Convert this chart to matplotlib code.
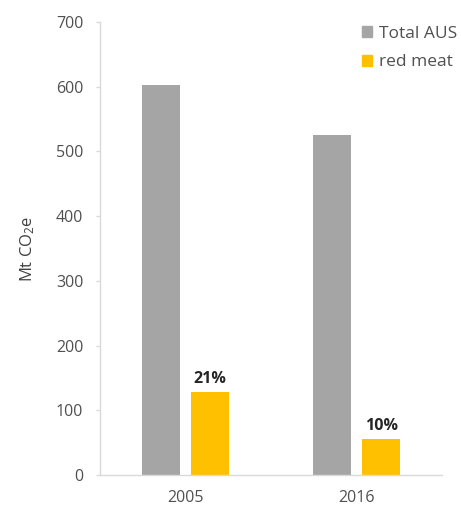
import matplotlib
matplotlib.use("Agg")
import matplotlib.pyplot as plt
from matplotlib.patches import Patch

plt.rcParams['font.family'] = ['Open Sans', 'DejaVu Sans']
plt.rcParams['mathtext.fontset'] = 'custom'
plt.rcParams['mathtext.rm'] = 'Open Sans'
plt.rcParams['mathtext.it'] = 'Open Sans'

years = ["2005", "2016"]
total_aus = [603, 525]
red_meat = [128, 55]
shares = ["21%", "10%"]

gray = "#A5A5A5"
gold = "#FFC000"
axis_col = "#D9D9D9"
text_col = "#505050"

fig = plt.figure(figsize=(4.61, 5.07), dpi=100)
ax = fig.add_axes([0.217, 0.063, 0.742, 0.894])

x = list(range(len(years)))
w = 0.219
off = 0.144
ax.bar([i - off for i in x], total_aus, width=w, color=gray, label="Total AUS")
bars = ax.bar([i + off for i in x], red_meat, width=w, color=gold, label="red meat")

for b, s in zip(bars, shares):
    ax.text(b.get_x() + b.get_width() / 2, b.get_height() + 8, s,
            ha="center", va="bottom", fontsize=11.5, fontweight="bold",
            color="#262626")

ax.set_xlim(-0.5, 1.5)
ax.set_ylim(0, 700)
ax.set_yticks(range(0, 701, 100))
ax.set_xticks(x)
ax.set_xticklabels(years)

for s in ["top", "right"]:
    ax.spines[s].set_visible(False)
for s in ["left", "bottom"]:
    ax.spines[s].set_color(axis_col)
    ax.spines[s].set_linewidth(1.0)

ax.tick_params(axis="y", colors=axis_col, labelcolor=text_col, labelsize=11.5,
               length=3, width=1, pad=9)
ax.tick_params(axis="x", length=0, labelcolor=text_col, labelsize=11.5, pad=11)

ax.set_ylabel("Mt CO$_2$e", color="#404040", fontsize=12, labelpad=14)

handles = [Patch(color=gray, label="Total AUS"), Patch(color=gold, label="red meat")]
leg = ax.legend(handles=handles, loc="upper right", bbox_to_anchor=(1.09, 1.025),
                frameon=False, fontsize=12.5, handlelength=0.6, handleheight=0.6,
                handletextpad=0.4, labelspacing=0.7)
for t in leg.get_texts():
    t.set_color(text_col)

fig.savefig("out.png", dpi=100)
